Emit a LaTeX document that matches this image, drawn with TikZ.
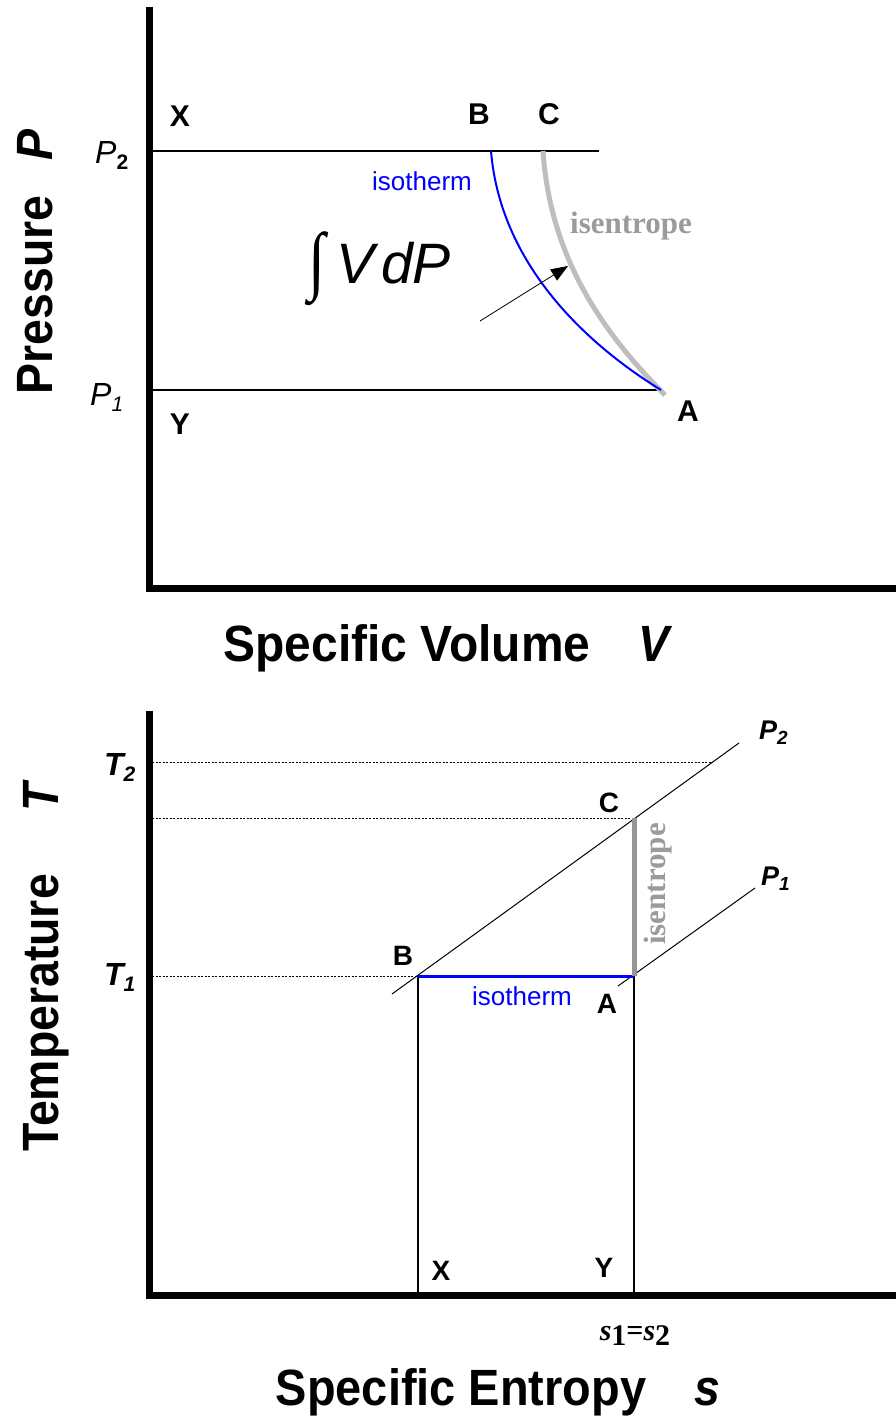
\documentclass[tikz,border=0pt]{standalone}
\usepackage{fontspec}
\usepackage{graphicx}
\setmainfont{Liberation Sans}
\newfontfamily\timesf{Liberation Serif}
\usetikzlibrary{arrows.meta}
\definecolor{isoblue}{RGB}{0,0,255}
\definecolor{lgray}{RGB}{190,190,190}
\definecolor{mgray}{RGB}{150,150,150}
\definecolor{tgray}{RGB}{155,155,155}
\begin{document}
\begin{tikzpicture}[x=1pt,y=-1pt,
  axis/.style={line width=7pt, line join=miter},
  pline/.style={line width=2pt},
  thinline/.style={line width=1pt},
  dotline/.style={line width=0.8pt, dash pattern=on 2pt off 1.5pt},
  lbl/.style={font=\fontsize{30}{36}\selectfont\bfseries, inner sep=0pt, anchor=base},
  lblsm/.style={font=\fontsize{28}{34}\selectfont\bfseries, inner sep=0pt, anchor=base},
  axtitle/.style={font=\fontsize{51}{60}\selectfont\bfseries, inner sep=0pt, anchor=base},
  isolbl/.style={font=\fontsize{26}{30}\selectfont, text=isoblue, inner sep=0pt, anchor=base},
  isenlbl/.style={font=\fontsize{31}{36}\selectfont\timesf\bfseries, inner sep=0pt, anchor=base}
]
\useasboundingbox (0,0) rectangle (896,1416);

% ---------------- top: P-V diagram ----------------
\coordinate (ytop1) at (149,7);
\coordinate (o1) at (149,588);
\coordinate (xend1) at (896,588);
\draw[axis] (ytop1) -- (o1) -- (xend1);

\coordinate (p2l) at (152,151);
\coordinate (p2r) at (599,151);
\coordinate (p1l) at (152,390);
\coordinate (B1) at (491,151);
\coordinate (C1) at (543,151);
\coordinate (A1) at (661,390);
\coordinate (A1g) at (665,395);
\draw[pline] (p2l) -- (p2r);
\draw[pline] (p1l) -- (A1);

\draw[lgray, line width=5pt] (C1) .. controls (550,255) and (600,330) .. (A1g);
\draw[isoblue, line width=2pt] (B1) .. controls (500,260) and (580,340) .. (A1);

\coordinate (arrS) at (480,321);
\coordinate (arrE) at (568,266);
\draw[line width=0.8pt, -{Triangle[length=17pt,width=13pt]}] (arrS) -- (arrE);

\node[lbl] (X1) at (180,126) {X};
\node[lbl] (Bl1) at (479,124) {B};
\node[lbl] (Cl1) at (549,124) {C};
\node[lbl] (Al1) at (688,421) {A};
\node[lbl] (Y1) at (180,434) {Y};

\node[font=\fontsize{32}{36}\selectfont, inner sep=0pt, anchor=base west] (P2a) at (95,163) {\textit{P}\raisebox{-6pt}{\fontsize{21}{24}\selectfont\textbf{2}}};
\node[font=\fontsize{32}{36}\selectfont, inner sep=0pt, anchor=base west] (P1a) at (90,405) {\textit{P}\raisebox{-6pt}{\fontsize{21}{24}\selectfont\textit{1}}};

\node[isolbl] (iso1) at (422,190) {isotherm};
\node[isenlbl, text=tgray] (isen1) at (631,233) {isentrope};

\node[inner sep=0pt] (int) at (317,269) {\resizebox*{17pt}{74pt}{\timesf ∫}};
\node[font=\fontsize{57}{64}\selectfont\itshape, inner sep=0pt, anchor=base west] (vdp) at (336,283) {V\hspace{7pt}dP};

\node[axtitle, rotate=90] (ptitle) at (52,295) {\scalebox{0.91}[1]{Pressure}};
\node[axtitle, rotate=90] (ptitleP) at (52,145) {\scalebox{0.91}[1]{\itshape P}};
\node[axtitle] (vtitle) at (407,661) {\scalebox{0.94}[1]{Specific Volume}};
\node[axtitle] (vtitleV) at (654,661) {\scalebox{0.91}[1]{\itshape V}};

% ---------------- bottom: T-s diagram ----------------
\coordinate (ytop2) at (149,711);
\coordinate (o2) at (149,1295.5);
\coordinate (xend2) at (896,1295.5);
\draw[axis] (ytop2) -- (o2) -- (xend2);

\coordinate (B2) at (418,976);
\coordinate (A2) at (634,976);
\coordinate (C2) at (634,818);
\coordinate (t2l) at (152,762);
\coordinate (t2r) at (711,762);
\coordinate (tcl) at (152,818);
\coordinate (t1l) at (152,976);
\coordinate (X2) at (418,1292);
\coordinate (Y2) at (634,1292);
\coordinate (p2a) at (392,994);
\coordinate (p2b) at (739,743);
\coordinate (p1a) at (618,986);
\coordinate (p1b) at (755,888);

\draw[dotline] (t2l) -- (t2r);
\draw[dotline] (tcl) -- (C2);
\draw[dotline] (t1l) -- (B2);
\draw[thinline] (p2a) -- (p2b);
\draw[thinline] (p1a) -- (p1b);
\draw[pline] (B2) -- (X2);
\draw[pline] (A2) -- (Y2);
\draw[isoblue, line width=3pt] (B2) -- (A2);
\draw[mgray, line width=5pt] (A2) -- (C2);

\node[lblsm] (Cl2) at (609,812) {C};
\node[lblsm] (Bl2) at (403,965) {B};
\node[lblsm] (Al2) at (607,1013) {A};
\node[lblsm] (Xl2) at (441,1280) {X};
\node[lblsm] (Yl2) at (604,1277) {Y};

\node[isolbl] (iso2) at (522,1005) {isotherm};
\node[isenlbl, text=tgray, rotate=90] (isen2) at (665,884) {isentrope};

\node[font=\fontsize{32}{36}\selectfont\bfseries\itshape, inner sep=0pt, anchor=base west] (T2l) at (104,775) {T\raisebox{-6pt}{\fontsize{21}{24}\selectfont 2}};
\node[font=\fontsize{32}{36}\selectfont\bfseries\itshape, inner sep=0pt, anchor=base west] (T1l) at (104,985) {T\raisebox{-6pt}{\fontsize{21}{24}\selectfont 1}};
\node[font=\fontsize{27}{32}\selectfont\bfseries\itshape, inner sep=0pt, anchor=base west] (P2l) at (759,739) {P\raisebox{-5pt}{\fontsize{19}{22}\selectfont 2}};
\node[font=\fontsize{27}{32}\selectfont\bfseries\itshape, inner sep=0pt, anchor=base west] (P1l) at (761,885) {P\raisebox{-5pt}{\fontsize{19}{22}\selectfont 1}};

\node[font=\fontsize{30}{36}\selectfont\timesf\bfseries, inner sep=0pt, anchor=base] (s12) at (635,1340) {\textit{s}\raisebox{-5pt}{1}=\textit{s}\raisebox{-5pt}{2}};

\node[axtitle, rotate=90] (ttitle) at (58,1013) {\scalebox{0.91}[1]{Temperature}};
\node[axtitle, rotate=90] (ttitleT) at (58,797) {\scalebox{0.91}[1]{\itshape T}};
\node[axtitle] (stitle) at (461,1405) {\scalebox{0.92}[1]{Specific Entropy}};
\node[axtitle] (stitleS) at (707,1405) {\scalebox{0.91}[1]{\itshape s}};
\end{tikzpicture}
\end{document}
